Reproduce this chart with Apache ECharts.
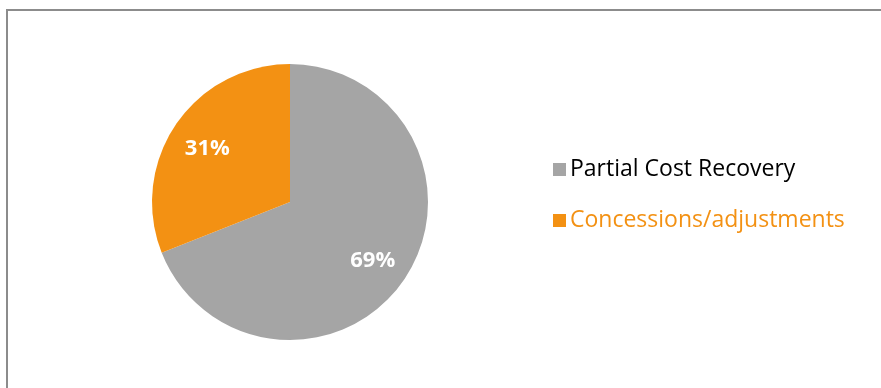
<!DOCTYPE html>
<html>
<head>
<meta charset="utf-8">
<script src="https://cdn.jsdelivr.net/npm/echarts@6/dist/echarts.min.js"></script>
<style>
html,body{margin:0;padding:0;background:#fff;}
#chart{width:881px;height:388px;}
</style>
</head>
<body>
<div id="chart"></div>
<script>
var categories = ['Partial Cost Recovery', 'Concessions/adjustments'];
var values = [69, 31];
var colors = ['#A5A5A5', '#F39113'];
var legendTextColors = ['#000000', '#F39113'];

var data = categories.map(function (c, i) {
  return { name: c, value: values[i], itemStyle: { color: colors[i] } };
});
var labelData = categories.map(function (c, i) {
  return { name: c, value: values[i], itemStyle: { color: 'rgba(0,0,0,0)' } };
});

var chart = echarts.init(document.getElementById('chart'));
chart.setOption({
  animation: false,
  graphic: [{
    type: 'rect',
    shape: { x: 7, y: 10, width: 900, height: 400 },
    style: { fill: 'none', stroke: '#8C8C8C', lineWidth: 2 },
    silent: true
  }],
  legend: {
    orient: 'vertical',
    left: 548,
    top: 153,
    itemWidth: 13,
    itemHeight: 13,
    itemGap: 28,
    icon: 'rect',
    data: categories.map(function (c, i) {
      return { name: c, textStyle: { color: legendTextColors[i] } };
    }),
    textStyle: { fontFamily: 'Open Sans', fontSize: 23, padding: [0, 0, 0, -1] },
    selectedMode: false
  },
  series: [{
    type: 'pie',
    center: [290, 202],
    radius: [0, 138],
    startAngle: 90,
    clockwise: true,
    data: data,
    label: { show: false },
    labelLine: { show: false },
    silent: true
  }, {
    type: 'pie',
    center: [290, 202],
    radius: [0, 194],
    startAngle: 90,
    clockwise: true,
    data: labelData,
    label: {
      show: true,
      position: 'inside',
      formatter: '{d}%',
      color: '#ffffff',
      fontFamily: 'Open Sans',
      fontWeight: 'bold',
      fontSize: 22,
      offset: [0, 3]
    },
    labelLine: { show: false },
    silent: true
  }]
});
</script>
</body>
</html>
